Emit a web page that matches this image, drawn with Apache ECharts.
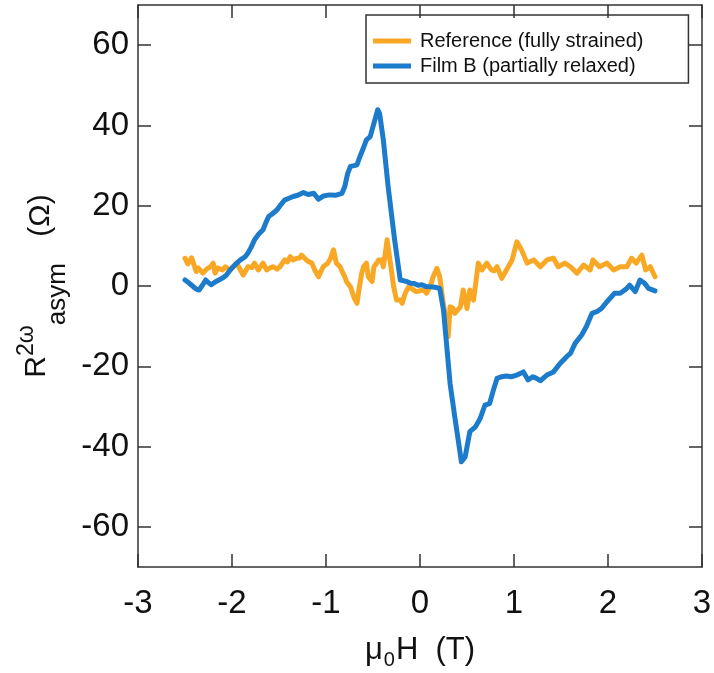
<!DOCTYPE html>
<html>
<head>
<meta charset="utf-8">
<script src="https://cdn.jsdelivr.net/npm/echarts@6/dist/echarts.min.js"></script>
<style>
  html, body { margin: 0; padding: 0; background: #fff; }
  #chart { width: 714px; height: 673px; }
</style>
</head>
<body>
<div id="chart"></div>
<script>
// Applied field (T) and second-harmonic asymmetric resistance (Ohm)
const fieldRef = [
  -2.50, -2.47, -2.45, -2.43, -2.41, -2.38, -2.36, -2.34, -2.31, -2.27,
  -2.23, -2.20, -2.18, -2.15, -2.13, -2.10, -2.07, -2.02, -1.98, -1.95,
  -1.91, -1.88, -1.85, -1.83, -1.79, -1.76, -1.72, -1.69, -1.67, -1.63,
  -1.59, -1.56, -1.52, -1.49, -1.44, -1.41, -1.38, -1.35, -1.31, -1.28,
  -1.26, -1.23, -1.21, -1.18, -1.15, -1.12, -1.08, -1.05, -1.03, -0.98,
  -0.95, -0.92, -0.89, -0.85, -0.82, -0.80, -0.78, -0.74, -0.70, -0.67,
  -0.65, -0.62, -0.60, -0.57, -0.55, -0.51, -0.49, -0.46, -0.44, -0.41,
  -0.39, -0.37, -0.35, -0.32, -0.30, -0.28, -0.25, -0.21, -0.19, -0.16,
  -0.14, -0.12, -0.08, -0.04, 0.00, 0.04, 0.07, 0.11, 0.14, 0.18,
  0.21, 0.24, 0.27, 0.30, 0.32, 0.35, 0.37, 0.40, 0.43, 0.46,
  0.50, 0.53, 0.57, 0.60, 0.62, 0.66, 0.71, 0.76, 0.79, 0.82,
  0.87, 0.92, 0.98, 1.03, 1.08, 1.14, 1.21, 1.28, 1.35, 1.42,
  1.47, 1.54, 1.60, 1.67, 1.74, 1.81, 1.84, 1.91, 1.99, 2.06,
  2.13, 2.20, 2.25, 2.30, 2.36, 2.40, 2.45, 2.50
];
const refSignal = [
  6.9, 5.5, 5.7, 7.0, 7.2, 3.6, 4.5, 4.8, 3.2, 4.2,
  4.8, 5.7, 3.2, 4.5, 4.8, 4.0, 4.8, 4.0, 5.0, 5.7,
  4.0, 2.7, 4.0, 4.8, 4.6, 5.7, 4.0, 5.0, 5.7, 4.0,
  4.6, 4.8, 4.2, 4.8, 6.5, 6.0, 7.3, 6.5, 6.9, 7.0,
  7.7, 7.0, 6.5, 6.0, 5.7, 4.0, 2.3, 3.8, 4.8, 5.7,
  7.0, 9.0, 5.7, 4.8, 3.2, 2.3, 1.0, -0.2, -3.0, -4.3,
  -1.0, 3.2, 4.8, 5.7, 2.3, 1.1, 4.8, 5.7, 6.5, 6.5,
  4.8, 8.0, 11.5, 6.5, 3.2, -0.2, -3.5, -3.5, -4.3, -2.0,
  -1.0, -0.2, -0.8, -1.4, -1.2, -1.0, -1.8, 0.0, 2.3, 4.4,
  2.3, -3.0, -7.7, -12.6, -5.2, -5.5, -6.8, -6.0, -5.2, -1.0,
  -5.6, -1.0, -3.5, 2.0, 5.7, 4.0, 5.7, 4.0, 3.8, 4.8,
  1.9, 4.0, 6.5, 11.0, 9.0, 5.7, 6.5, 4.8, 6.5, 6.9,
  4.8, 5.7, 4.8, 3.2, 5.2, 4.0, 6.5, 4.8, 5.7, 4.0,
  4.8, 4.8, 6.9, 5.7, 7.7, 4.0, 4.8, 2.3
];

const fieldB = [
  -2.50, -2.46, -2.42, -2.38, -2.35, -2.32, -2.28, -2.25, -2.22, -2.18,
  -2.14, -2.10, -2.06, -2.02, -1.98, -1.95, -1.91, -1.86, -1.83, -1.80,
  -1.76, -1.72, -1.67, -1.64, -1.61, -1.57, -1.52, -1.48, -1.44, -1.40,
  -1.35, -1.30, -1.24, -1.19, -1.13, -1.08, -1.03, -0.96, -0.90, -0.83,
  -0.80, -0.77, -0.74, -0.70, -0.67, -0.64, -0.60, -0.57, -0.53, -0.50,
  -0.48, -0.45, -0.43, -0.39, -0.34, -0.27, -0.21, -0.17, -0.14, -0.10,
  -0.06, -0.02, 0.02, 0.06, 0.11, 0.16, 0.21, 0.25, 0.32, 0.37,
  0.42, 0.44, 0.46, 0.48, 0.53, 0.59, 0.64, 0.69, 0.74, 0.78,
  0.82, 0.87, 0.92, 0.97, 1.03, 1.10, 1.15, 1.20, 1.24, 1.28,
  1.35, 1.42, 1.49, 1.56, 1.60, 1.65, 1.72, 1.77, 1.83, 1.88,
  1.93, 1.99, 2.07, 2.13, 2.20, 2.23, 2.29, 2.34, 2.39, 2.43,
  2.50
];
const filmB = [
  1.5, 0.8, 0.0, -0.8, -1.0, 0.0, 1.5, 0.8, 0.3, 1.0,
  1.5, 2.0, 2.7, 4.0, 5.0, 5.7, 6.5, 7.3, 8.2, 9.5,
  11.5, 12.8, 14.0, 15.8, 17.3, 18.0, 19.0, 20.3, 21.4, 21.8,
  22.3, 22.6, 23.3, 22.8, 23.1, 21.6, 22.4, 22.7, 22.6, 23.1,
  24.8, 28.0, 29.8, 30.0, 30.2, 32.2, 34.5, 36.4, 37.2, 39.7,
  41.4, 43.9, 43.0, 36.4, 25.0, 11.5, 1.5, 1.3, 1.1, 0.7,
  0.6, 0.2, 0.3, -0.1, -0.2, -0.3, -0.6, -6.0, -24.3, -32.6,
  -40.5, -43.8, -43.2, -42.6, -36.3, -35.1, -33.0, -29.7, -29.3, -26.0,
  -23.0, -22.6, -22.4, -22.6, -22.2, -21.4, -23.4, -22.6, -23.0, -23.6,
  -22.2, -21.4, -19.3, -17.6, -16.8, -14.3, -12.2, -10.1, -6.8, -6.4,
  -5.6, -3.9, -1.8, -1.8, -0.6, 0.2, -1.4, 1.5, 0.7, -0.6,
  -1.2
];

const seriesNames = ['Reference (fully strained)', 'Film B (partially relaxed)'];
const seriesColors = ['#F9A825', '#1C7BCB'];
const yTickValues = [-60, -40, -20, 0, 20, 40, 60];

const pairs = (xs, ys) => xs.map((x, i) => [x, ys[i]]);

const FONT = 'Liberation Sans, Arial, Helvetica, sans-serif';
const INK = '#111';
const frameLine = { color: '#333', width: 1.5 };

function xAxisCfg(bottom) {
  return {
    type: 'value', min: -3, max: 3, interval: 1,
    position: bottom ? 'bottom' : 'top',
    axisLine: { show: true, onZero: false, lineStyle: frameLine },
    axisTick: { show: true, inside: true, length: 13, lineStyle: frameLine },
    axisLabel: { show: bottom, fontSize: 33, margin: 20, color: INK, fontFamily: FONT },
    splitLine: { show: false }
  };
}
function yAxisCfg(left) {
  return {
    type: 'value', min: -70, max: 70,
    position: left ? 'left' : 'right',
    axisLine: { show: true, onZero: false, lineStyle: frameLine },
    axisTick: { show: true, inside: true, length: 13, lineStyle: frameLine, customValues: yTickValues },
    axisLabel: { show: left, fontSize: 33, margin: 9, color: INK, fontFamily: FONT, customValues: yTickValues },
    splitLine: { show: false }
  };
}

const xBottom = Object.assign(xAxisCfg(true), {
  name: '{m|μ}{s|0}{m|H  (T)}',
  nameLocation: 'middle',
  nameGap: 68,
  nameTextStyle: {
    fontFamily: FONT, color: INK,
    rich: {
      m: { fontSize: 31, lineHeight: 31, verticalAlign: 'middle', fontFamily: FONT, color: INK },
      s: { fontSize: 20, lineHeight: 20, verticalAlign: 'middle', padding: [20, 1, 0, 1], fontFamily: FONT, color: INK }
    }
  }
});
const yLeft = Object.assign(yAxisCfg(true), {
  name: '{m|R}{sup|2ω}{sub|asym}{unit| (Ω)}',
  nameLocation: 'middle',
  nameRotate: 90,
  nameGap: 81,
  nameTextStyle: {
    fontFamily: FONT, color: INK,
    rich: {
      m: { fontSize: 30, lineHeight: 30, verticalAlign: 'middle', fontFamily: FONT, color: INK },
      unit: { fontSize: 30, lineHeight: 30, verticalAlign: 'middle', padding: [8, 0, 0, 0], fontFamily: FONT, color: INK },
      sup: { fontSize: 23, lineHeight: 23, verticalAlign: 'middle', padding: [0, 0, 20, 0], fontFamily: FONT, color: INK },
      sub: { fontSize: 26, lineHeight: 26, verticalAlign: 'middle', padding: [42, 18, 0, 0], fontFamily: FONT, color: INK }
    }
  }
});

const chart = echarts.init(document.getElementById('chart'), null, { renderer: 'canvas' });
chart.setOption({
  animation: false,
  backgroundColor: '#fff',
  grid: { left: 138, right: 12, top: 5, bottom: 106, outerBoundsMode: 'none' },
  legend: {
    orient: 'vertical',
    left: 366, top: 15,
    padding: [16, 45, 7, 7],
    borderColor: '#333', borderWidth: 1.5,
    icon: 'rect', itemWidth: 38, itemHeight: 5, itemGap: 5,
    data: seriesNames,
    textStyle: { fontSize: 20, lineHeight: 20, color: INK, fontFamily: FONT, padding: [0, 0, 0, 4] }
  },
  xAxis: [xBottom, xAxisCfg(false)],
  yAxis: [yLeft, yAxisCfg(false)],
  series: [
    {
      name: seriesNames[0], type: 'line', xAxisIndex: 0, yAxisIndex: 0,
      data: pairs(fieldRef, refSignal), showSymbol: false, symbol: 'none',
      lineStyle: { color: seriesColors[0], width: 5, join: 'round', cap: 'round' },
      itemStyle: { color: seriesColors[0] }
    },
    {
      name: seriesNames[1], type: 'line', xAxisIndex: 0, yAxisIndex: 0,
      data: pairs(fieldB, filmB), showSymbol: false, symbol: 'none',
      lineStyle: { color: seriesColors[1], width: 5, join: 'round', cap: 'round' },
      itemStyle: { color: seriesColors[1] }
    }
  ]
});
</script>
</body>
</html>
